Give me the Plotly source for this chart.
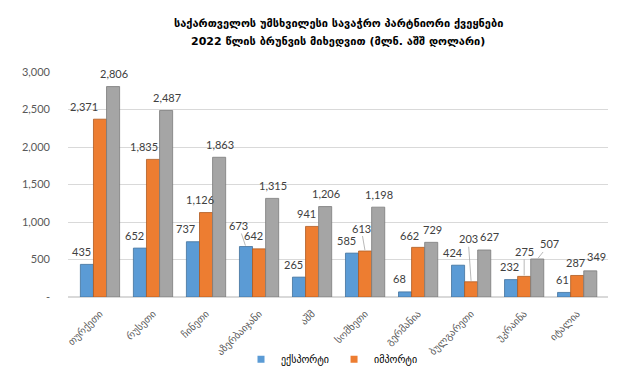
import plotly.graph_objects as go

categories = ["თურქეთი", "რუსეთი", "ჩინეთი", "აზერბაიჯანი", "აშშ",
              "სომხეთი", "გერმანია", "ბულგარეთი", "უკრაინა", "იტალია"]
export_vals = [435, 652, 737, 673, 265, 585, 68, 424, 232, 61]
import_vals = [2371, 1835, 1126, 642, 941, 613, 662, 203, 275, 287]
turnover_vals = [2806, 2487, 1863, 1315, 1206, 1198, 729, 627, 507, 349]
y_tickvals = [0, 500, 1000, 1500, 2000, 2500, 3000]
y_ticktext = ["-", "500", "1,000", "1,500", "2,000", "2,500", "3,000"]
title_lines = ["საქართველოს უმსხვილესი სავაჭრო პარტნიორი ქვეყნები",
               "2022 წლის ბრუნვის მიხედვით (მლნ. აშშ დოლარი)"]

GEO = "DejaVu Sans, sans-serif"
NUM = "Lato, Open Sans, sans-serif"

W, H = 620, 378
ML, MR, MT, MB = 60, 20, 64, 86
BARGAP = 0.26
cat_px = (W - ML - MR) / len(categories)
bar_px = cat_px * (1 - BARGAP) / 3

series = [
    ("ექსპორტი", export_vals, "#5B9BD5", "#41719C", -bar_px, -5),
    ("იმპორტი", import_vals, "#ED7D31", "#AE5A21", 0.0, -6),
    ("ბრუნვა", turnover_vals, "#A5A5A5", "#7B7B7B", bar_px, 1),
]

# label nudges (style only): (series index, category index) -> (ax, ay, leader)
label_nudge = {
    (1, 0): (-16, -13, False),
    (1, 1): (-9, -13, False),
    (0, 2): (-7, -13, False),
    (0, 3): (-7, -21, True),
    (1, 5): (-4, -23, True),
    (1, 6): (-9, -12, False),
    (1, 7): (-3, -43, True),
    (2, 7): (5, -13, False),
    (1, 8): (0, -25, True),
    (2, 8): (12, -15, True),
    (0, 8): (-1, -13, False),
    (0, 9): (-1, -13, False),
    (1, 9): (-2, -13, False),
    (2, 9): (6, -14, False),
}

fig = go.Figure()
annotations = []
for si, (name, vals, col, edge, xoff, dx) in enumerate(series):
    fig.add_trace(go.Bar(
        x=categories, y=vals, name=name, showlegend=False,
        marker=dict(color=col, line=dict(color=edge, width=0.8)),
        hoverinfo="x+y",
    ))
    for ci, (c, v) in enumerate(zip(categories, vals)):
        ax, ay, leader = label_nudge.get((si, ci), (dx, -13, False))
        annotations.append(dict(
            x=c, y=v, xref="x", yref="y", xshift=xoff,
            text=f"{v:,}", showarrow=True, ax=ax, ay=ay,
            arrowhead=0, arrowwidth=0.8,
            arrowcolor="#A6A6A6" if leader else "rgba(0,0,0,0)",
            standoff=1, startstandoff=0,
            font=dict(family=NUM, size=11, color="#404040"),
        ))

# legend entries with small square markers
for name, vals, col, edge, xoff, dx in series[:2]:
    fig.add_trace(go.Scatter(
        x=[None], y=[None], mode="markers", name=name, showlegend=True,
        marker=dict(symbol="square", size=7, color=col),
    ))

annotations.append(dict(text="<b>" + title_lines[0] + "</b>", xref="paper", yref="paper",
                        x=0.5, y=1 + (MT - 15) / (H - MT - MB), xanchor="center", yanchor="middle",
                        showarrow=False, font=dict(family=GEO, size=11, color="#000000")))
annotations.append(dict(text="<b>" + title_lines[1] + "</b>", xref="paper", yref="paper",
                        x=0.5, y=1 + (MT - 33) / (H - MT - MB), xanchor="center", yanchor="middle",
                        showarrow=False, font=dict(family=GEO, size=11, color="#000000")))

fig.update_layout(
    width=W, height=H,
    margin=dict(l=ML, r=MR, t=MT, b=MB),
    paper_bgcolor="white", plot_bgcolor="white",
    barmode="group", bargap=BARGAP, bargroupgap=0,
    annotations=annotations,
    xaxis=dict(tickangle=-45, tickfont=dict(family=GEO, size=10, color="#595959"),
               showline=False, ticks="", ticklabelstandoff=8),
    yaxis=dict(range=[0, 3000], tickvals=y_tickvals, ticktext=y_ticktext,
               tickfont=dict(family=NUM, size=11, color="#595959"),
               showgrid=True, gridcolor="#D9D9D9", gridwidth=1,
               zeroline=True, zerolinecolor="#D9D9D9", ticks="", ticklabelstandoff=17),
    legend=dict(orientation="h", x=0.5 - 6 / (W - ML - MR), xanchor="center",
                y=-(355 - (H - MB)) / (H - MT - MB), yanchor="middle",
                font=dict(family=GEO, size=10, color="#000000"),
                itemwidth=30, traceorder="normal", bgcolor="rgba(0,0,0,0)"),
    showlegend=True,
)

fig.write_html("out.html")
